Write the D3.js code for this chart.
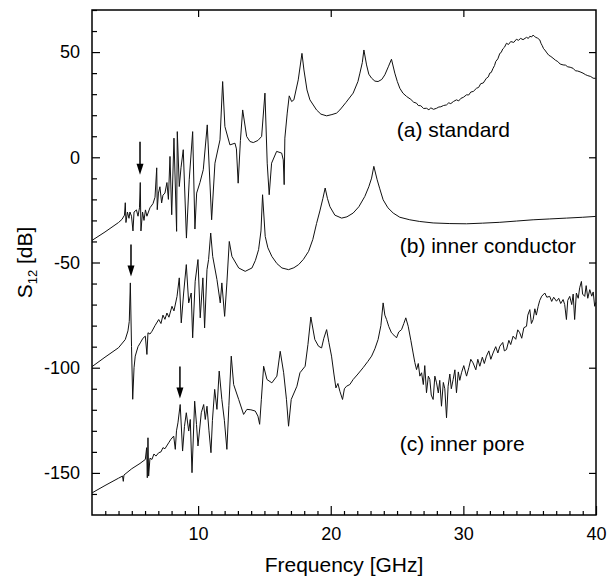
<!DOCTYPE html>
<html>
<head>
<meta charset="utf-8">
<script src="https://cdn.jsdelivr.net/npm/d3@7"></script>
<style>
  body { margin: 0; background: #fff; }
  svg { display: block; font-family: "Liberation Sans", Arial, Helvetica, sans-serif; }
</style>
</head>
<body>
<svg id="chart"></svg>
<script>
// Chart size
const width = 609;
const height = 579;
const margin = { top: 10, right: 13, bottom: 64, left: 92 };

// (a) standard : [frequency GHz, S12 dB]
const standard = [
  [2.00,-39.5],[2.98,-35.5],[4.00,-31],[4.26,-29.5],[4.45,-27.5],[4.51,-21.6],[4.56,-31],[4.67,-26],
  [4.79,-29],[4.86,-26],[4.98,-28],[5.09,-35],[5.17,-26],[5.35,-25],[5.47,-28],[5.58,-24],[5.64,-12],
  [5.69,-35],[5.81,-26],[5.92,-30],[6.03,-25],[6.14,-28],[6.37,-24],[6.60,-22],[6.75,-19],[6.88,-5],
  [6.92,-24.9],[7.01,-17],[7.12,-14],[7.25,-21.7],[7.35,-18],[7.50,-17],[7.65,-12],[7.76,-20],[7.88,0.4],
  [8.01,-27.3],[8.18,9.1],[8.38,-35.2],[8.43,12.2],[8.58,-13.9],[8.71,-5],[8.88,3.6],[9.12,-38.4],
  [9.33,-10.7],[9.59,12.2],[9.76,-34.1],[9.89,-17],[10.14,-12],[10.39,-5.9],[10.69,15.4],[11.02,-29.7],
  [11.27,-2.8],[11.65,8.3],[11.85,36],[12.02,14.6],[12.40,5.9],[12.78,6.7],[12.89,4],[13.02,-12.3],
  [13.19,8],[13.36,22.5],[13.66,9.9],[13.91,7.5],[14.16,7],[14.51,8],[14.79,9.9],[15.04,30.5],
  [15.21,-2.8],[15.36,-17.8],[15.54,-2.8],[15.92,2.8],[16.30,2],[16.42,-1.2],[16.49,-13],[16.54,9.1],
  [16.72,21],[16.87,29.2],[17.05,26.5],[17.22,27.3],[17.55,36.8],[17.83,49.4],[17.98,41.5],[18.21,32],
  [18.43,27.3],[18.93,22.5],[19.26,20.5],[19.69,19.7],[20.09,20.3],[20.44,21],[20.69,22.5],[21.14,26],
  [21.69,30.5],[22.05,36],[22.20,40],[22.38,45],[22.50,51],[22.70,43.9],[22.87,39.5],[23.08,37.6],
  [23.33,36.2],[23.57,36],[23.85,37],[24.08,39.2],[24.34,43],[24.58,46.6],[24.83,40],[25.02,36],
  [25.21,32.8],[25.44,30.5],[25.72,28.9],[26.04,27.5],[26.25,26.2],[26.47,25.7],[26.6,24.6],[26.79,24.5],
  [27.0,23.2],[27.22,23.3],[27.4,22.6],[27.55,23.5],[27.75,22.8],[27.98,23.3],[28.15,23.9],[28.3,24],
  [28.5,24.6],[28.73,24.9],[28.9,25.9],[29.05,25.5],[29.25,26.5],[29.48,27.3],[29.65,26.8],[29.81,28],
  [30.0,28.5],[30.24,29.7],[30.4,29.6],[30.56,31],[30.75,31.3],[30.99,32.8],[31.15,33.2],[31.31,35],
  [31.5,35.3],[31.74,37.6],[31.88,38.2],[31.99,40],[32.1,40.3],[32.24,42.3],[32.35,43.6],[32.44,45.5],
  [32.6,46.8],[32.75,49.4],[32.85,49.8],[32.97,51.5],[33.1,52.3],[33.25,54.2],[33.4,53.6],[33.57,55],
  [33.8,54.6],[34.0,56.1],[34.15,55.6],[34.32,56.5],[34.5,55.9],[34.76,57],[34.9,56.5],[35.01,57.5],
  [35.15,57.2],[35.26,58.1],[35.35,57.5],[35.46,57],[35.6,56.6],[35.76,55.8],[35.85,54.2],[35.95,53],
  [36.05,51.6],[36.14,51],[36.3,49.6],[36.44,48.5],[36.6,47.9],[36.76,47.1],[36.95,46.1],[37.12,45.5],
  [37.3,44.3],[37.52,43.9],[37.7,43.8],[37.87,43],[38.05,42.8],[38.27,42.3],[38.45,41.1],[38.62,41],
  [38.8,40.6],[39.02,40],[39.2,39.3],[39.38,38.8],[39.6,38.4],[39.78,37.6],[39.98,37.5]
];

// (b) inner conductor
const innerConductor = [
  [2.00,-99.5],[2.98,-95],[4.00,-90.5],[4.51,-86.6],[4.71,-82.5],[4.81,-78],[4.89,-59.7],[4.98,-90],
  [5.07,-115],[5.17,-100],[5.26,-94.5],[5.47,-90],[5.64,-88.2],[5.84,-86],[6.02,-85],[6.14,-93.7],
  [6.22,-83.4],[6.37,-84],[6.52,-82.7],[6.75,-80],[7.03,-77.1],[7.20,-79],[7.35,-75],[7.50,-77],
  [7.65,-74],[7.80,-76],[8.03,-70.8],[8.18,-73],[8.41,-66.1],[8.58,-57.3],[8.73,-78.7],[8.91,-64.5],
  [9.11,-51],[9.29,-69.2],[9.48,-64.5],[9.59,-85.8],[9.78,-58.9],[9.99,-48.6],[10.16,-76.3],[10.36,-57.3],
  [10.49,-81.1],[10.67,-53.4],[10.79,-48.6],[10.95,-36],[11.10,-47.1],[11.42,-58.1],[11.67,-69.2],
  [11.79,-59.7],[12.00,-75.6],[12.17,-59.7],[12.35,-40],[12.55,-47.1],[13.06,-52.6],[13.55,-54.2],
  [14.06,-52.6],[14.32,-49],[14.56,-43.9],[14.74,-35],[14.86,-17.8],[15.06,-37.6],[15.26,-43],
  [15.56,-47.1],[15.94,-50.5],[16.32,-52.6],[16.82,-53.4],[17.22,-52.5],[17.58,-51],[17.94,-48.5],
  [18.33,-44.7],[18.65,-39],[18.93,-31.5],[19.18,-25.5],[19.41,-19.5],[19.58,-14.6],[19.75,-19.5],
  [19.94,-23.5],[20.31,-27.5],[20.82,-28.9],[21.22,-28.3],[21.69,-26.5],[22.12,-23.5],[22.57,-18.6],
  [22.87,-14],[23.08,-9.9],[23.25,-4.3],[23.50,-10.7],[23.70,-15],[23.95,-20.2],[24.31,-24],[24.71,-26.5],
  [25.21,-28.5],[25.96,-29.7],[26.71,-30.5],[27.72,-31.2],[28.98,-31.5],[30.24,-31.6],[31.46,-31.3],
  [32.75,-30.9],[34.00,-30.3],[35.26,-29.7],[36.51,-29.3],[37.77,-28.9],[39.00,-28.5],[39.98,-28.1]
];

// (c) inner pore
const innerPore = [
  [2.00,-159.5],[2.98,-156],[4.00,-152.5],[4.30,-151.5],[4.36,-154],[4.41,-151],[5.00,-148],[5.62,-145.5],
  [6.02,-143.6],[6.12,-138],[6.17,-152.3],[6.22,-133.3],[6.27,-151.5],[6.37,-143],[6.52,-143.6],[6.67,-141],
  [6.82,-142],[7.03,-140.4],[7.20,-140],[7.35,-138],[7.50,-138.5],[7.78,-135.7],[7.95,-134],[8.16,-132.5],
  [8.28,-138.8],[8.37,-130],[8.48,-126.2],[8.65,-117.5],[8.83,-139.6],[8.97,-128],[9.11,-121.4],[9.29,-130.1],
  [9.41,-124.6],[9.54,-149.9],[9.74,-115.9],[9.88,-127],[9.99,-137.2],[10.24,-121.4],[10.42,-117.5],
  [10.54,-124.6],[10.67,-118.3],[10.82,-130],[10.97,-140.4],[11.08,-125],[11.25,-110.3],[11.42,-119.8],
  [11.59,-101.6],[11.79,-115.1],[11.98,-125],[12.17,-138.8],[12.32,-118],[12.50,-94.5],[12.68,-108],
  [13.06,-115.1],[13.43,-122.2],[13.68,-119.8],[13.98,-120],[14.31,-120.6],[14.51,-123],[14.64,-126.9],
  [14.77,-115],[14.94,-99.3],[15.19,-105.6],[15.56,-107.2],[15.94,-104],[16.19,-92.2],[16.45,-102.4],
  [16.66,-115],[16.82,-127.8],[17.02,-115.1],[17.45,-108.8],[17.68,-102.4],[18.07,-99.3],[18.28,-89],
  [18.50,-75.9],[18.80,-86.6],[19.08,-89.8],[19.31,-90.6],[19.48,-86],[19.69,-81.9],[19.86,-88],
  [20.06,-94.5],[20.24,-103],[20.39,-109.6],[20.54,-107.5],[20.69,-111.2],[20.89,-115.1],[21.03,-110],
  [21.19,-108.8],[21.44,-108],[21.69,-105.6],[22.05,-103],[22.44,-100],[22.80,-97],[23.08,-94.5],
  [23.33,-91],[23.57,-86.6],[23.78,-80],[23.95,-69.2],[24.08,-75],[24.21,-77.1],[24.38,-80.5],[24.58,-83.4],
  [24.76,-84.5],[24.96,-85.8],[25.13,-83],[25.34,-81.9],[25.51,-79],[25.66,-76.3],[25.84,-80.3],[26.04,-87],
  [26.21,-93],[26.34,-97.5],[26.47,-100.9],[26.60,-98],[26.72,-104],[26.85,-102.4],[26.98,-108],[27.09,-99],
  [27.22,-111.9],[27.36,-104],[27.47,-105.6],[27.58,-113],[27.72,-115.1],[27.85,-104],[27.98,-107.2],
  [28.11,-112],[28.22,-106],[28.35,-118.3],[28.49,-107],[28.60,-110],[28.73,-123.8],[28.85,-108.8],
  [28.98,-103],[29.09,-110],[29.23,-105.6],[29.36,-101],[29.48,-111.9],[29.62,-102],[29.73,-106],
  [29.86,-102.4],[30.03,-99],[30.24,-104],[30.41,-100],[30.56,-96],[30.73,-97.7],[30.94,-101],[31.09,-96],
  [31.24,-99.3],[31.43,-95],[31.58,-98],[31.74,-94.5],[31.92,-92],[32.07,-96],[32.24,-93],[32.44,-90],
  [32.60,-93],[32.75,-89.8],[32.97,-88],[33.09,-92],[33.25,-91.4],[33.43,-87],[33.57,-89],[33.75,-85],
  [33.95,-86.5],[34.10,-82],[34.25,-83.4],[34.40,-86],[34.56,-81],[34.76,-80.3],[34.86,-75],[35.01,-72.4],
  [35.13,-79],[35.26,-77.1],[35.39,-72],[35.50,-75],[35.64,-70.8],[35.76,-68],[35.91,-66],[36.14,-64.5],
  [36.29,-66.5],[36.51,-66.1],[36.66,-68.5],[36.81,-66.5],[37.02,-68.4],[37.19,-67],[37.34,-69.5],
  [37.52,-67.6],[37.64,-70],[37.77,-77.1],[37.87,-68],[38.02,-66.1],[38.17,-70],[38.28,-65],[38.39,-77.1],
  [38.52,-64.5],[38.66,-67],[38.77,-62],[38.90,-59],[38.99,-65],[39.15,-66.1],[39.26,-61],[39.38,-67],
  [39.53,-62.9],[39.68,-66],[39.79,-64],[39.90,-70.8],[39.98,-69]
];

const series = [standard, innerConductor, innerPore];

// curve labels and arrows (frequency, dB)
const labels = [
  { text: "(a) standard", f: 24.98, v: 9.7 },
  { text: "(b) inner conductor", f: 25.2, v: -45.3 },
  { text: "(c) inner pore", f: 25.2, v: -139.8 }
];
const arrows = [
  { f: 5.62, top: 7.4, tip: -8.3 },
  { f: 4.94, top: -41.5, tip: -56.7 },
  { f: 8.63, top: -99.4, tip: -114.6 }
];

const xMajor = [10, 20, 30, 40];
const yMajor = [50, 0, -50, -100, -150];

const svg = d3.select("#chart")
    .attr("width", width)
    .attr("height", height);

const x = d3.scaleLinear()
    .domain([2, 40])
    .range([margin.left, width - margin.right]);

const y = d3.scaleLinear()
    .domain([-170, 70])
    .range([height - margin.bottom, margin.top]);

const bottom = height - margin.bottom;
const right = width - margin.right;

// bottom axis: minor ticks every GHz, majors labelled
svg.append("g")
    .attr("transform", `translate(0,${bottom})`)
    .call(d3.axisBottom(x).tickValues(d3.range(3, 40).filter(d => d % 10 !== 0)).tickSize(-4).tickFormat(""));
svg.append("g")
    .attr("transform", `translate(0,${bottom})`)
    .call(d3.axisBottom(x).tickValues(xMajor).tickSize(-9).tickPadding(12));

// left axis: minor every 10 dB, plain hyphen for negatives
svg.append("g")
    .attr("transform", `translate(${margin.left},0)`)
    .call(d3.axisLeft(y).tickValues(d3.range(-160, 71, 10).filter(d => d % 50 !== 0)).tickSize(-5).tickFormat(""));
svg.append("g")
    .attr("transform", `translate(${margin.left},0)`)
    .call(d3.axisLeft(y).tickValues(yMajor).tickSize(-8).tickPadding(12).tickFormat(d => String(d)));

// top and right: major ticks only
svg.append("g")
    .attr("transform", `translate(0,${margin.top})`)
    .call(d3.axisTop(x).tickValues([10, 20, 30]).tickSize(-7).tickFormat(""));
svg.append("g")
    .attr("transform", `translate(${right},0)`)
    .call(d3.axisRight(y).tickValues(yMajor).tickSize(-7).tickFormat(""));

svg.selectAll(".domain").remove();
svg.selectAll(".tick line").attr("stroke", "#000").attr("stroke-width", 1.2);
svg.selectAll(".tick text")
    .attr("fill", "#000")
    .style("font-size", "18px");

// frame
svg.append("rect")
    .attr("x", margin.left)
    .attr("y", margin.top)
    .attr("width", right - margin.left)
    .attr("height", bottom - margin.top)
    .attr("fill", "none")
    .attr("stroke", "#000")
    .attr("stroke-width", 1.5);

// curves
const line = d3.line()
    .x(d => x(d[0]))
    .y(d => y(d[1]));

svg.append("g")
    .selectAll("path")
    .data(series)
    .enter()
    .append("path")
    .attr("d", line)
    .attr("fill", "none")
    .attr("stroke", "#111")
    .attr("stroke-width", 1)
    .attr("stroke-linejoin", "round");

// arrows
const ag = svg.append("g");
arrows.forEach(a => {
    const ax = x(a.f), tipY = y(a.tip);
    ag.append("line")
        .attr("x1", ax).attr("x2", ax)
        .attr("y1", y(a.top)).attr("y2", tipY - 8)
        .attr("stroke", "#000").attr("stroke-width", 1.5);
    ag.append("path")
        .attr("d", `M${ax - 3.5},${tipY - 11}L${ax + 3.5},${tipY - 11}L${ax},${tipY}Z`)
        .attr("fill", "#000");
});

// curve labels
svg.append("g")
    .selectAll("text")
    .data(labels)
    .enter()
    .append("text")
    .attr("x", d => x(d.f))
    .attr("y", d => y(d.v))
    .style("font-size", "21px")
    .text(d => d.text);

// axis titles
svg.append("text")
    .attr("x", (margin.left + right) / 2)
    .attr("y", 572)
    .attr("text-anchor", "middle")
    .style("font-size", "21px")
    .text("Frequency [GHz]");

const yt = svg.append("text")
    .attr("transform", `translate(32,${(margin.top + bottom) / 2}) rotate(-90)`)
    .attr("text-anchor", "middle")
    .style("font-size", "21px");
yt.append("tspan").text("S");
yt.append("tspan").attr("dy", 5).style("font-size", "13px").text("12");
yt.append("tspan").attr("dy", -5).text(" [dB]");
</script>
</body>
</html>
